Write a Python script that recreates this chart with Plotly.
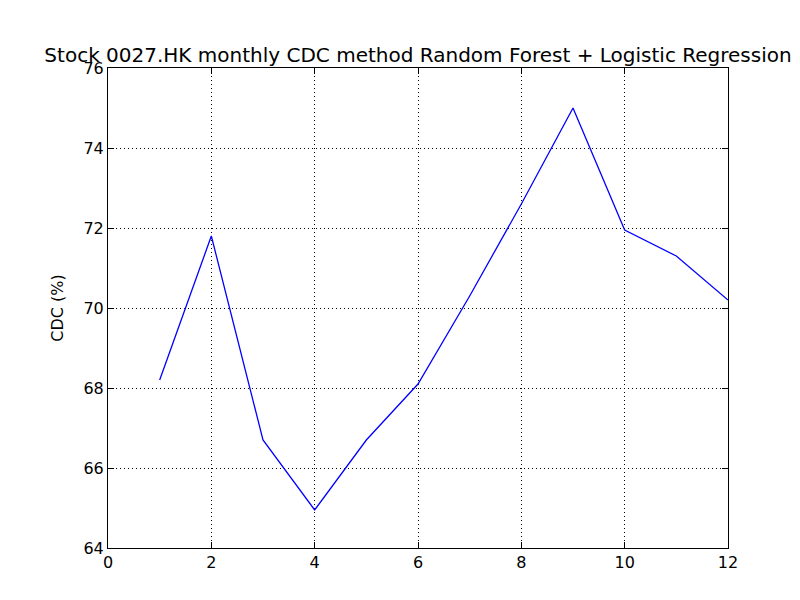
import plotly.graph_objects as go

months = [1, 2, 3, 4, 5, 6, 7, 8, 9, 10, 11, 12]
cdc = [68.2, 71.8, 66.7, 64.95, 66.7, 68.1, 70.3, 72.6, 75.0, 71.95, 71.3, 70.2]

fig = go.Figure(go.Scatter(x=months, y=cdc, mode="lines",
                           line=dict(color="blue", width=1.3)))

axis = dict(showline=True, linecolor="black", linewidth=1, mirror="ticks",
            ticks="inside", ticklen=6, tickcolor="black",
            showgrid=True, gridcolor="black", griddash="1px,3px", gridwidth=1,
            zeroline=False, tickfont=dict(size=16, color="black"))

fig.update_layout(
    width=800, height=600,
    margin=dict(l=100, r=80, t=60, b=60, autoexpand=False),
    paper_bgcolor="white", plot_bgcolor="white",
    font=dict(family="DejaVu Sans", color="black"),
    title=dict(text="Stock 0027.HK monthly CDC method Random Forest + Logistic Regression",
               x=0.5125, xanchor="center", y=0.922, yanchor="middle",
               font=dict(size=20)),
    xaxis=dict(range=[0, 12], dtick=2, **axis),
    yaxis=dict(range=[64, 76], dtick=2, title=dict(text="CDC (%)", font=dict(size=16)), **axis),
    showlegend=False,
)

fig.write_html("out.html")
